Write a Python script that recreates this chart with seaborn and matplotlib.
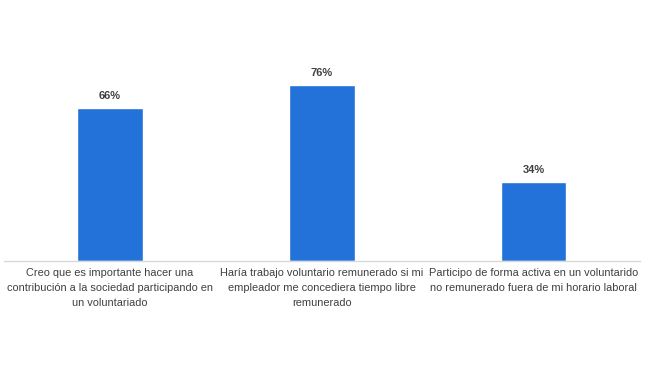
import matplotlib
matplotlib.use("Agg")
import matplotlib.pyplot as plt
import seaborn as sns
import pandas as pd

categories = [
    "Creo que es importante hacer una\ncontribución a la sociedad participando en\nun voluntariado",
    "Haría trabajo voluntario remunerado si mi\nempleador me concediera tiempo libre\nremunerado",
    "Participo de forma activa en un voluntarido\nno remunerado fuera de mi horario laboral",
]
values = [66, 76, 34]

df = pd.DataFrame({"cat": categories, "val": values})

sns.set_theme(style="white")
plt.rcParams["font.family"] = ["Liberation Sans", "DejaVu Sans"]

fig = plt.figure(figsize=(6.5, 3.89), dpi=100)
ax = fig.add_axes([0.006, 0.329, 0.978, 0.476])

sns.barplot(data=df, x="cat", y="val", color="#2272D9", saturation=1, width=0.31, ax=ax)

ax.set_ylim(0, 80)
ax.set_xlim(-0.5, 2.5)
for i, v in enumerate(values):
    ax.annotate(f"{v}%", (i, v), xytext=(0, 5), textcoords="offset points",
                ha="center", va="bottom", fontsize=8, fontweight="bold", color="#404040")

ax.set_xlabel("")
ax.set_ylabel("")
ax.set_yticks([])
ax.tick_params(axis="x", length=0, pad=5, labelsize=7.9, labelcolor="#404040")
for lbl in ax.get_xticklabels():
    lbl.set_linespacing(1.6)
for s in ["top", "right", "left"]:
    ax.spines[s].set_visible(False)
ax.spines["bottom"].set_color("#D9D9D9")
ax.spines["bottom"].set_linewidth(1)

fig.savefig("out.png", dpi=100)
